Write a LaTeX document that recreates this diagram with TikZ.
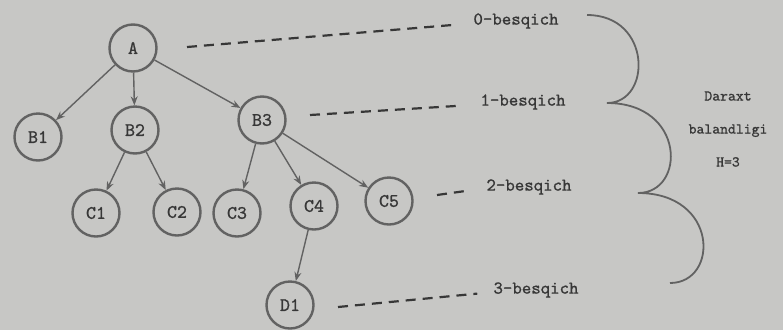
\documentclass[tikz,border=0pt]{standalone}
\usepackage{fontspec}
\newfontfamily\typefont{lmmono10-regular.otf}[FakeBold=1]
\usepackage{tikz}
\usetikzlibrary{positioning, arrows.meta}
\definecolor{paper}{RGB}{199, 199, 197}
\definecolor{ink}{RGB}{55, 55, 55}
\definecolor{ring}{RGB}{98, 98, 98}
\tikzset{
  vtx/.style={circle, draw=ring, line width=2.4pt, fill=paper,
              minimum size=47pt, inner sep=0pt, text=ink,
              font=\typefont\fontsize{19}{21}\selectfont},
  arr/.style={-{Stealth[length=9pt, width=7pt]}, line width=1.4pt, draw=ring},
  lvl/.style={dash pattern=on 10pt off 7pt, line width=2.2pt, draw=ink},
  lbl/.style={text=ink, inner sep=1pt, font=\typefont\fontsize{18}{20}\selectfont},
  brc/.style={line width=1.8pt, draw=ring},
}

\begin{document}
\begin{tikzpicture}[x=1pt, y=-1pt]
  \fill[paper] (0,0) rectangle (783,330);
  \useasboundingbox (0,0) rectangle (783,330);

  % the tree
  \node[vtx] (A)  at (133, 48)  {A};
  \node[vtx] (B1) at (38, 137)  {B1};
  \node[vtx] (B2) at (135, 130) {B2};
  \node[vtx] (B3) at (262, 120) {B3};
  \node[vtx] (C1) at (96, 213)  {C1};
  \node[vtx] (C2) at (177, 212) {C2};
  \node[vtx] (C3) at (237, 213) {C3};
  \node[vtx] (C4) at (314, 206) {C4};
  \node[vtx] (C5) at (389, 201) {C5};
  \node[vtx] (D1) at (290, 305) {D1};

  \draw[arr] (A) -- (B1);
  \draw[arr] (A) -- (B2);
  \draw[arr] (A) -- (B3);
  \draw[arr] (B2) -- (C1);
  \draw[arr] (B2) -- (C2);
  \draw[arr] (B3) -- (C3);
  \draw[arr] (B3) -- (C4);
  \draw[arr] (B3) -- (C5);
  \draw[arr] (C4) -- (D1);

  % levels
  \node[lbl] (lvl0) at (516, 21)  {0-besqich};
  \node[lbl] (lvl1) at (523, 102) {1-besqich};
  \node[lbl] (lvl2) at (529, 187) {2-besqich};
  \node[lbl] (lvl3) at (536, 290) {3-besqich};

  \coordinate (s0) at (187, 47);
  \coordinate (s1) at (310, 115);
  \coordinate (s2) at (437, 195);
  \coordinate (s3) at (338, 307);

  \draw[lvl] (s0) -- ([xshift=-15pt]lvl0.base west);
  \draw[lvl] (s1) -- ([xshift=-17pt]lvl1.base west);
  \draw[lvl] (s2) -- ([xshift=-17pt]lvl2.base west);
  \draw[lvl] (s3) -- ([xshift=-15pt]lvl3.base west);

  % height brace
  \draw[brc] (587, 15) .. controls (652, 15) and (652, 103) .. (607, 103)
             .. controls (686, 103) and (686, 193) .. (638, 193)
             .. controls (719, 193) and (719, 283) .. (670, 283);

  \node[text=ink, align=center, font=\typefont\fontsize{15}{33}\selectfont]
    (height) at (728, 129) {Daraxt\\balandligi\\H=3};
\end{tikzpicture}
\end{document}
